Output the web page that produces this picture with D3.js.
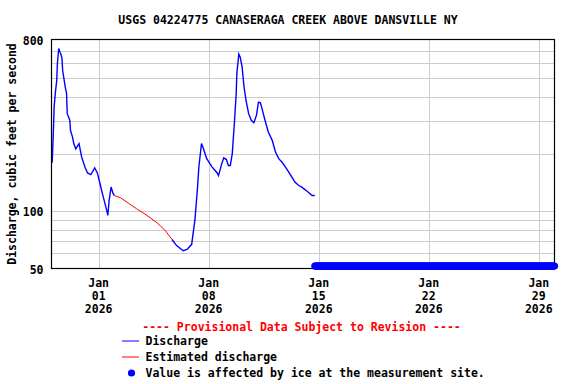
<!DOCTYPE html>
<html>
<head>
<meta charset="utf-8">
<script src="https://cdn.jsdelivr.net/npm/d3@7"></script>
<style>
  body { margin: 0; background: #fff; }
  svg text { font-family: "DejaVu Sans Mono", monospace; font-weight: bold; font-size: 11.5px; }
</style>
</head>
<body>
<div id="chart"></div>
<script>
// discharge record
const dischargeA = [
  ['2025-12-29 01:00', 180], ['2025-12-29 03:00', 272], ['2025-12-29 04:00', 353],
  ['2025-12-29 06:00', 424], ['2025-12-29 08:00', 488], ['2025-12-29 09:00', 598],
  ['2025-12-29 11:00', 717], ['2025-12-29 13:00', 686], ['2025-12-29 14:00', 675],
  ['2025-12-29 16:00', 638], ['2025-12-29 17:00', 551], ['2025-12-29 21:00', 450],
  ['2025-12-29 23:00', 416], ['2025-12-30 00:00', 326], ['2025-12-30 04:00', 301],
  ['2025-12-30 05:00', 266], ['2025-12-30 08:00', 246], ['2025-12-30 10:00', 227],
  ['2025-12-30 13:00', 213], ['2025-12-30 18:00', 227], ['2025-12-30 22:00', 193],
  ['2025-12-31 03:00', 171], ['2025-12-31 07:00', 159], ['2025-12-31 12:00', 156],
  ['2025-12-31 18:00', 169], ['2025-12-31 22:00', 159], ['2026-01-01 02:00', 140],
  ['2026-01-01 07:00', 119], ['2026-01-01 13:00', 99], ['2026-01-01 14:00', 95],
  ['2026-01-01 16:00', 114], ['2026-01-01 19:00', 134], ['2026-01-01 22:00', 124],
  ['2026-01-02 00:00', 121]
];

const estimated = [
  ['2026-01-02 00:00', 121], ['2026-01-02 09:00', 118], ['2026-01-02 22:00', 110],
  ['2026-01-03 10:00', 103], ['2026-01-04 02:00', 95], ['2026-01-04 17:00', 87],
  ['2026-01-05 06:00', 79], ['2026-01-05 16:00', 71]
];

const dischargeB = [
  ['2026-01-05 16:00', 71], ['2026-01-05 23:00', 66], ['2026-01-06 09:00', 62],
  ['2026-01-06 15:00', 63], ['2026-01-06 22:00', 67], ['2026-01-07 03:00', 90],
  ['2026-01-07 07:00', 134], ['2026-01-07 09:00', 171], ['2026-01-07 13:00', 227],
  ['2026-01-07 16:00', 213], ['2026-01-07 21:00', 189], ['2026-01-08 05:00', 171],
  ['2026-01-08 13:00', 159], ['2026-01-08 15:00', 154], ['2026-01-08 20:00', 178],
  ['2026-01-08 23:00', 191], ['2026-01-09 03:00', 187], ['2026-01-09 06:00', 174],
  ['2026-01-09 09:00', 174], ['2026-01-09 12:00', 201], ['2026-01-09 15:00', 283],
  ['2026-01-09 18:00', 416], ['2026-01-09 19:00', 530], ['2026-01-09 22:00', 670],
  ['2026-01-10 00:00', 648], ['2026-01-10 03:00', 574], ['2026-01-10 06:00', 450],
  ['2026-01-10 09:00', 383], ['2026-01-10 13:00', 326], ['2026-01-10 17:00', 301],
  ['2026-01-10 21:00', 292], ['2026-01-11 01:00', 320], ['2026-01-11 04:00', 375],
  ['2026-01-11 07:00', 372], ['2026-01-11 10:00', 340], ['2026-01-11 14:00', 301],
  ['2026-01-11 19:00', 261], ['2026-01-12 01:00', 236], ['2026-01-12 06:00', 205],
  ['2026-01-12 11:00', 189], ['2026-01-12 16:00', 181], ['2026-01-12 21:00', 171],
  ['2026-01-13 02:00', 161], ['2026-01-13 07:00', 151], ['2026-01-13 12:00', 142],
  ['2026-01-13 17:00', 137], ['2026-01-13 22:00', 134], ['2026-01-14 03:00', 130],
  ['2026-01-14 09:00', 125], ['2026-01-14 14:00', 121], ['2026-01-14 18:00', 121]
];

// ice-affected period, plotted along the bottom of the graph
const icePeriod = ['2026-01-14 18:00', '2026-01-30 00:00'];
const iceLevel = 51.5;

const yTicks = [50, 100, 800];
const yGrid = [60, 70, 80, 90, 100, 200, 300, 400, 500, 600, 700];
const xTicks = ['2026-01-01', '2026-01-08', '2026-01-15', '2026-01-22', '2026-01-29'];

const title = 'USGS 04224775 CANASERAGA CREEK ABOVE DANSVILLE NY';
const yTitle = 'Discharge, cubic feet per second';
const legendItems = ['Discharge', 'Estimated discharge', 'Value is affected by ice at the measurement site.'];

const width = 576, height = 384;
const margin = { top: 39.5, right: 21.5, bottom: 115.5, left: 51.5 };

const parse = d3.timeParse('%Y-%m-%d %H:%M');
const parseDay = d3.timeParse('%Y-%m-%d');

const svg = d3.select('#chart').append('svg')
  .attr('width', width)
  .attr('height', height);

const x = d3.scaleTime()
  .domain([parseDay('2025-12-29'), parseDay('2026-01-30')])
  .range([margin.left, width - margin.right]);

const y = d3.scaleLog()
  .domain([50, 800])
  .range([height - margin.bottom, margin.top]);

// gridlines
svg.append('g')
  .attr('stroke', '#cccccc')
  .attr('stroke-width', 1)
  .selectAll('line.h')
  .data(yGrid)
  .join('line')
  .attr('x1', margin.left).attr('x2', width - margin.right)
  .attr('y1', d => Math.round(y(d)) + 0.5).attr('y2', d => Math.round(y(d)) + 0.5);

svg.append('g')
  .attr('stroke', '#cccccc')
  .attr('stroke-width', 1)
  .selectAll('line.v')
  .data(xTicks.map(parseDay))
  .join('line')
  .attr('x1', d => Math.round(x(d)) + 0.5).attr('x2', d => Math.round(x(d)) + 0.5)
  .attr('y1', margin.top).attr('y2', height - margin.bottom);

// lines
const line = d3.line()
  .x(d => x(parse(d[0])))
  .y(d => y(d[1]));

svg.append('path')
  .datum(estimated)
  .attr('fill', 'none')
  .attr('stroke', '#ff0000')
  .attr('stroke-width', 1)
  .attr('d', line);

[dischargeA, dischargeB].forEach(s => {
  svg.append('path')
    .datum(s)
    .attr('fill', 'none')
    .attr('stroke', '#0000ff')
    .attr('stroke-width', 1.4)
    .attr('d', line);
});

// frame
svg.append('rect')
  .attr('x', margin.left).attr('y', margin.top)
  .attr('width', width - margin.left - margin.right)
  .attr('height', height - margin.top - margin.bottom)
  .attr('fill', 'none')
  .attr('stroke', '#000')
  .attr('stroke-width', 1.2);

// ice dots
const iceTimes = d3.timeHour.every(1).range(parse(icePeriod[0]), d3.timeHour.offset(parse(icePeriod[1]), 1));
svg.append('g')
  .attr('fill', '#0000ff')
  .selectAll('circle')
  .data(iceTimes)
  .join('circle')
  .attr('cx', d => x(d))
  .attr('cy', y(iceLevel))
  .attr('r', 3.6);

// y tick labels
svg.append('g')
  .selectAll('text')
  .data(yTicks)
  .join('text')
  .attr('x', margin.left - 8)
  .attr('y', d => y(d) + 1)
  .attr('text-anchor', 'end')
  .attr('dominant-baseline', 'central')
  .text(d => d);

// x tick labels
const fmts = [d3.timeFormat('%b'), d3.timeFormat('%d'), d3.timeFormat('%Y')];
const xl = svg.append('g')
  .selectAll('g')
  .data(xTicks.map(parseDay))
  .join('g')
  .attr('transform', d => `translate(${x(d)},0)`);
fmts.forEach((f, i) => {
  xl.append('text')
    .attr('x', 0)
    .attr('y', [283, 295.5, 308.5][i])
    .attr('text-anchor', 'middle')
    .attr('dominant-baseline', 'central')
    .text(d => f(d));
});

// titles
svg.append('text')
  .attr('x', 288)
  .attr('y', 20)
  .attr('text-anchor', 'middle')
  .attr('dominant-baseline', 'central')
  .text(title);

svg.append('text')
  .attr('transform', `translate(12,${(margin.top + height - margin.bottom) / 2}) rotate(-90)`)
  .attr('text-anchor', 'middle')
  .attr('dominant-baseline', 'central')
  .text(yTitle);

// legend
svg.append('text')
  .attr('x', 301.5)
  .attr('y', 327)
  .attr('text-anchor', 'middle')
  .attr('dominant-baseline', 'central')
  .attr('fill', '#ff0000')
  .text('---- Provisional Data Subject to Revision ----');

const legY = [341, 357, 373];
const leg = svg.append('g');
leg.append('line')
  .attr('x1', 122).attr('x2', 139).attr('y1', legY[0]).attr('y2', legY[0])
  .attr('stroke', '#0000ff').attr('stroke-width', 1);
leg.append('line')
  .attr('x1', 122).attr('x2', 139).attr('y1', legY[1]).attr('y2', legY[1])
  .attr('stroke', '#ff0000').attr('stroke-width', 1);
leg.append('circle')
  .attr('cx', 131.5).attr('cy', legY[2]).attr('r', 3.6)
  .attr('fill', '#0000ff');
leg.selectAll('text')
  .data(legendItems)
  .join('text')
  .attr('x', 145.5)
  .attr('y', (d, i) => legY[i])
  .attr('dominant-baseline', 'central')
  .text(d => d);
</script>
</body>
</html>
